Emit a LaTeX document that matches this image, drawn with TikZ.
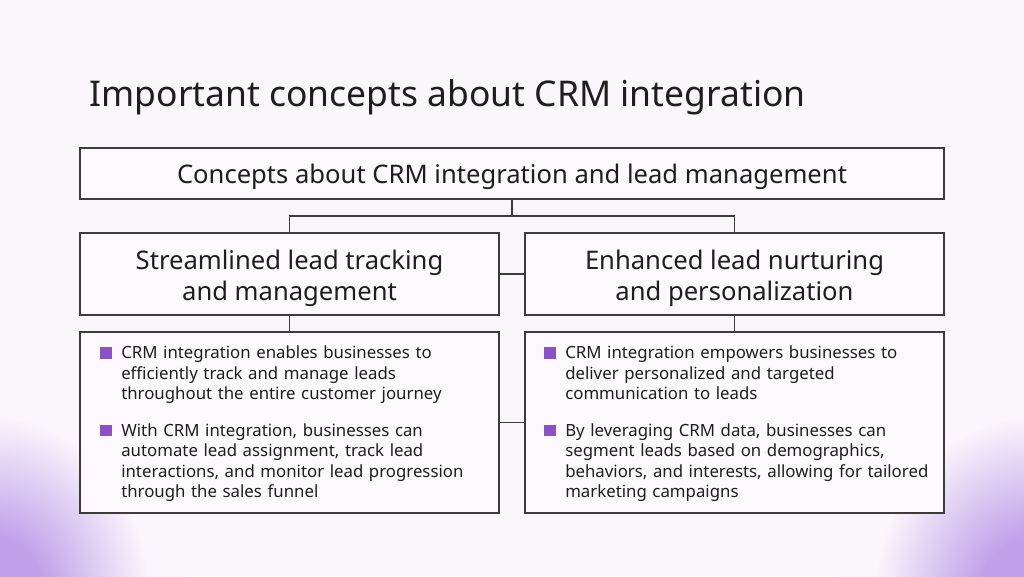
\documentclass[tikz,border=0pt]{standalone}
\usepackage{fontspec}
\setmainfont{Noto Sans}
\definecolor{bg}{HTML}{FBF5FC}
\definecolor{boxbg}{HTML}{FDF8FD}
\definecolor{corner}{HTML}{C0A2EA}
\definecolor{edge}{HTML}{3C3C3C}
\definecolor{ink}{HTML}{1E1E1E}
\definecolor{bul}{HTML}{8A52C4}
\pgfdeclareradialshading{cornerfade}{\pgfpointorigin}{color(0bp)=(corner); color(7bp)=(corner); color(20bp)=(bg); color(50bp)=(bg)}
\newcommand{\bsq}{\makebox[15.75pt][l]{\textcolor{bul}{\rule{8.6pt}{8.6pt}}}}
\newcommand{\bitem}[1]{\noindent\bsq\parbox[t]{290pt}{\raggedright\strut #1\strut}\par}
\begin{document}
\begin{tikzpicture}[x=0.75pt,y=-0.75pt,
  box/.style={draw=edge,fill=boxbg,line width=1pt,inner sep=0pt},
  htext/.style={text=ink,align=center,inner sep=0pt,font=\fontsize{19.2}{23.25}\selectfont},
  btext/.style={text=ink,align=left,text width=306pt,inner sep=0pt,anchor=north west,
    font=\fontsize{12.6}{15.4}\selectfont},
  link/.style={draw=edge,line width=1pt}]
\fill[bg] (0,0) rectangle (1024,576);
\begin{scope}
\clip (0,0) rectangle (1024,576);
\shade[shading=cornerfade] (-10,600) ellipse [x radius=200,y radius=230];
\shade[shading=cornerfade] (1034,600) ellipse [x radius=200,y radius=230];
\end{scope}
\useasboundingbox (0,0) rectangle (1024,576);

\node[anchor=base west,text=ink,inner sep=0pt,font=\fontsize{26.6}{30}\selectfont] (title) at (89.5,106) {Important concepts about CRM integration};

\node[box,minimum width=648pt,minimum height=38.25pt] (top) at (512,173.5) {};
\node[box,minimum width=314.25pt,minimum height=61.5pt] (ml) at (289.5,274) {};
\node[box,minimum width=314.25pt,minimum height=61.5pt] (mr) at (734.5,274) {};
\node[box,minimum width=314.25pt,minimum height=135.75pt] (bl) at (289.5,422.5) {};
\node[box,minimum width=314.25pt,minimum height=135.75pt] (br) at (734.5,422.5) {};

\node[htext] (topt) at (512,177) {Concepts about CRM integration and lead management};
\node[htext] (mlt) at (289.5,278) {Streamlined lead tracking\\and management};
\node[htext] (mrt) at (734.5,278) {Enhanced lead nurturing\\and personalization};

\node[btext] (blt) at (100,344.2) {\setlength{\parskip}{10.85pt}%
\bitem{CRM integration enables businesses to\\efficiently track and manage leads\\throughout the entire customer journey}
\bitem{With CRM integration, businesses can\\automate lead assignment, track lead\\interactions, and monitor lead progression\\through the sales funnel}};
\node[btext] (brt) at (544,344.2) {\setlength{\parskip}{10.85pt}%
\bitem{CRM integration empowers businesses to\\deliver personalized and targeted\\communication to leads}
\bitem{By leveraging CRM data, businesses can\\segment leads based on demographics,\\behaviors, and interests, allowing for tailored\\marketing campaigns}};

\coordinate (j) at (512,216);
\draw[link] (top.south) -- (j);
\draw[link] (ml.north) |- (j) -| (mr.north);
\draw[link] (ml.east) -- (mr.west);
\draw[link] (bl.east) -- (br.west);
\draw[link] (ml.south) -- (bl.north);
\draw[link] (mr.south) -- (br.north);
\end{tikzpicture}
\end{document}
